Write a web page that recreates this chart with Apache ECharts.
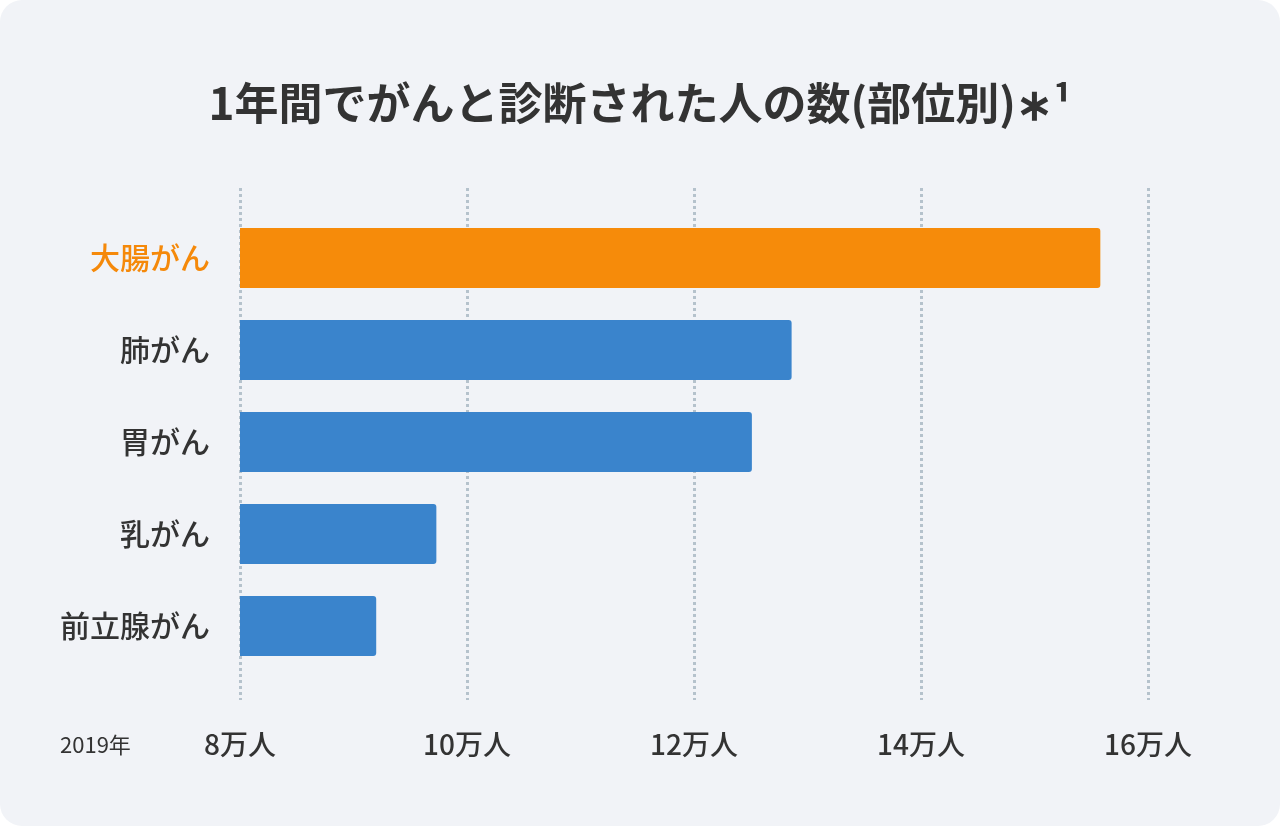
<!DOCTYPE html>
<html>
<head>
<meta charset="utf-8">
<script src="https://cdn.jsdelivr.net/npm/echarts@6/dist/echarts.min.js"></script>
<style>
  html,body{margin:0;padding:0;background:#fff;}
  #card{position:absolute;left:0;top:0;width:1280px;height:826px;background:#f1f3f7;border-radius:22px;}
  #chart{width:1280px;height:826px;}
</style>
</head>
<body>
<div id="card"><div id="chart"></div></div>
<script>
  // 部位と患者数(万人)
  const categories = ['大腸がん', '肺がん', '胃がん', '乳がん', '前立腺がん']
  const values = [15.58, 12.86, 12.51, 9.73, 9.2]
  const tickLabels = { 8: '8万人', 10: '10万人', 12: '12万人', 14: '14万人', 16: '16万人' }

  const font = '"Noto Sans CJK JP", "Noto Sans", sans-serif'
  let myChart = echarts.init(document.getElementById('chart'))
  let option = {
    backgroundColor: 'transparent',
    title: {
      text: '1年間でがんと診断された人の数(部位別)∗¹',
      left: 'center',
      top: 76,
      textStyle: { fontSize: 44, fontWeight: 'bold', color: '#333', fontFamily: font }
    },
    // grid 0: 目盛り線とラベル, grid 1: バー
    grid: [
      { left: 240, right: 132, top: 188, bottom: 126 },
      { left: 240, right: 132, top: 212, bottom: 154 }
    ],
    xAxis: [{
      gridIndex: 0,
      type: 'value',
      min: 8, max: 16, interval: 2,
      axisLine: { show: false },
      axisTick: { show: false },
      splitLine: { lineStyle: { type: 'dotted', color: '#b5c2cc', width: 3 } },
      axisLabel: {
        margin: 30,
        fontSize: 28, fontWeight: 500, color: '#333', fontFamily: font,
        formatter: v => tickLabels[v] || ''
      }
    }, {
      gridIndex: 1,
      type: 'value',
      min: 8, max: 16, interval: 2,
      show: false
    }],
    yAxis: [{
      gridIndex: 0,
      type: 'value',
      show: false
    }, {
      gridIndex: 1,
      type: 'category',
      data: categories,
      inverse: true,
      axisLine: { show: false },
      axisTick: { show: false },
      axisLabel: {
        margin: 30,
        fontSize: 30, fontWeight: 500, fontFamily: font,
        color: (v, i) => i === 0 ? '#f5890a' : '#333'
      }
    }],
    series: [{
      type: 'bar',
      xAxisIndex: 1,
      yAxisIndex: 1,
      data: values,
      barWidth: 60,
      itemStyle: {
        borderRadius: [0, 3, 3, 0],
        color: p => p.dataIndex === 0 ? '#f68b0a' : '#3a84cc'
      }
    }],
    graphic: [{
      type: 'text',
      left: 60, top: 734,
      style: { text: '2019年', fontSize: 22, fill: '#333', fontFamily: font }
    }],
    animation: false
  }
  myChart.setOption(option)
</script>
</body>
</html>
